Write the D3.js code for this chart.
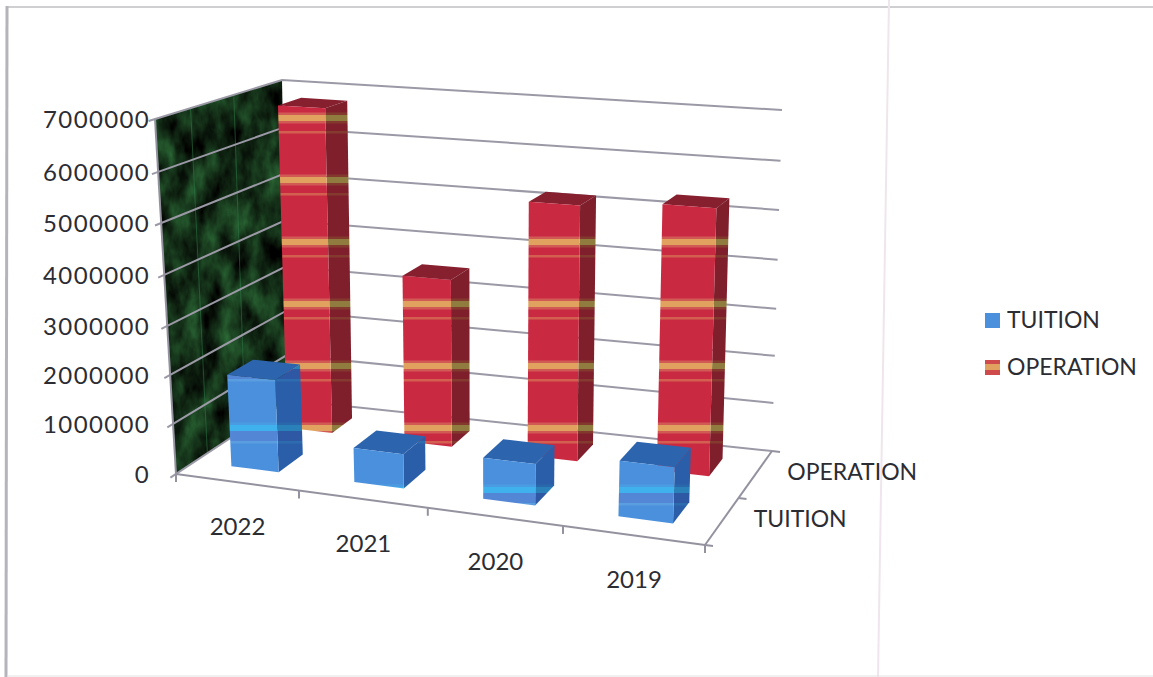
<!DOCTYPE html>
<html>
<head>
<meta charset="utf-8">
<script src="https://cdn.jsdelivr.net/npm/d3@7/dist/d3.min.js"></script>
<style>
  html, body { margin: 0; padding: 0; background: #fff; }
  svg { display: block; }
  text { font-family: Lato, "Open Sans", sans-serif; fill: #2c2c33; }
</style>
</head>
<body>
<svg id="chart" width="1153" height="677"></svg>
<script>
// Budget figures per year
const years = ["2022", "2021", "2020", "2019"];
const seriesNames = ["TUITION", "OPERATION"];
const tuition = [1860000, 670000, 790000, 1040000];
const operation = [6780000, 3490000, 5180000, 5320000];
const valueTicks = [0, 1000000, 2000000, 3000000, 4000000, 5000000, 6000000, 7000000];

const W = 1153, H = 677;
const svg = d3.select("#chart").attr("viewBox", `0 0 ${W} ${H}`);
const defs = svg.append("defs");

// Corners of the chart box on screen
const box = {
  fbl: [176, 474], ftl: [155, 119], fbr: [705, 545], ftr: [720, 150],
  bbl: [288, 400], btl: [282, 80], bbr: [772, 451], btr: [782, 110]
};
const mix = (a, b, t) => [a[0] + (b[0] - a[0]) * t, a[1] + (b[1] - a[1]) * t];

// Box coordinates: along the category axis, into the depth, and up the value axis
function project(u, w, f) {
  const bottom = mix(mix(box.fbl, box.fbr, u), mix(box.bbl, box.bbr, u), w);
  const top = mix(mix(box.ftl, box.ftr, u), mix(box.btl, box.btr, u), w);
  return mix(bottom, top, f);
}

// Foreshortened scales: spacing widens slightly toward the viewer on each axis
const catScale = d3.scaleLinear().domain([0, 1, 2, 3, 4]).range([0, 0.2325, 0.476, 0.7316, 1]);
const valScale = d3.scaleLinear().domain(valueTicks)
  .range([0, 0.141, 0.279, 0.417, 0.561, 0.707, 0.851, 1]);
const depthBands = { TUITION: [0.17, 0.40], OPERATION: [0.68, 0.87] };
const barInset = [0.30, 0.69];

const polyPath = d3.line().curve(d3.curveLinearClosed);
const openPath = d3.line();

// Tiled bands that run straight across the bars
const bandPeriod = 62;
function bandPattern(id, base, thick, edge, thin, tint) {
  const p = defs.append("pattern").attr("id", id)
    .attr("patternUnits", "userSpaceOnUse")
    .attr("width", 40).attr("height", bandPeriod);
  const band = (y, h, c) => p.append("rect").attr("x", 0).attr("y", y)
    .attr("width", 40).attr("height", h).attr("fill", c);
  band(0, bandPeriod, base);
  band(50.5, 11, edge);
  band(53, 6, thick);
  if (tint) { band(59, 3, tint); band(0, 7, tint); }
  band(7, 2.5, thin);
}
bandPattern("redFront", "#c92a42", "#e0a25e", "#d25a55", "#d35f50");
bandPattern("redSide", "#7e1f2b", "#8f7c3e", "#84392f", "#843a2e");
bandPattern("blueFront", "#4a90dd", "#3fb2ee", "#4a9ce2", "#5a9ee0", "#5486d6");
bandPattern("blueSide", "#2a5ea8", "#2a80b8", "#2a68ac", "#2d6cae", "#2f58a4");

// Mottled surface for the side wall
const marble = defs.append("filter").attr("id", "marble")
  .attr("x", 0).attr("y", 0).attr("width", 1).attr("height", 1)
  .attr("color-interpolation-filters", "sRGB");
marble.append("feTurbulence").attr("type", "fractalNoise")
  .attr("baseFrequency", "0.05 0.025").attr("numOctaves", 4).attr("seed", 7);
marble.append("feColorMatrix").attr("values",
  "0.25 0 0 0 -0.05  0.62 0 0 0 -0.13  0.32 0 0 0 -0.07  0 0 0 0 1");
marble.append("feComposite").attr("in2", "SourceGraphic").attr("operator", "in");

// Edges of the sheet
const sheet = svg.append("g").attr("fill", "none");
sheet.append("path").attr("d", openPath([[7, 7], [1153, 7]]))
  .attr("stroke", "#cfcfd2").attr("stroke-width", 2);
sheet.append("path").attr("d", openPath([[7, 6], [6, 677]]))
  .attr("stroke", "#b4b4ba").attr("stroke-width", 3);
sheet.append("path").attr("d", openPath([[889, 0], [878, 677]]))
  .attr("stroke", "#eee6ec").attr("stroke-width", 2);
sheet.append("path").attr("d", openPath([[7, 676], [1153, 676]]))
  .attr("stroke", "#e2e2e4").attr("stroke-width", 1);

// Side wall
const wallCorners = [project(0, 0, 0), project(0, 0, 1), project(0, 1, 1), project(0, 1, 0)];
svg.append("path").attr("d", polyPath(wallCorners)).attr("fill", "#000").attr("filter", "url(#marble)");
const wallSeams = [0.28, 0.62];
svg.append("g").selectAll("path").data(wallSeams).join("path")
  .attr("d", w => openPath([project(0, w, 0), project(0, w, 1)]))
  .attr("stroke", "#2f7d4a").attr("stroke-width", 1).attr("opacity", 0.55);

// Gridlines wrap the wall and the back of the box, with a tick stub in front of the axis
const gridColor = "#9b99a6";
svg.append("g").selectAll("path").data(valueTicks).join("path")
  .attr("fill", "none").attr("stroke", gridColor).attr("stroke-width", 2)
  .attr("d", v => {
    const f = valScale(v);
    return openPath([project(0, -0.05, f), project(0, 1, f), project(1, 1, f)]);
  });

// Floor edges and the axis lines
const axisColor = "#94929e";
const axes = svg.append("g").attr("fill", "none").attr("stroke", axisColor).attr("stroke-width", 2);
axes.append("path").attr("d", openPath([project(0, 0, 0), project(0, 0, 1)]));
axes.append("path").attr("d", openPath([project(0, 0, 0), project(1, 0, 0)]));
axes.append("path").attr("d", openPath([project(1, 0, 0), project(1, 1, 0)]));

// Category tick marks, then the depth tick marks
const catEdges = d3.range(years.length + 1);
axes.selectAll(".cat").data(catEdges).join("path").attr("class", "cat")
  .attr("d", i => { const p = project(catScale(i), 0, 0); return openPath([p, [p[0], p[1] + 8]]); });
const depthTicks = [0, 0.5, 1];
axes.selectAll(".dep").data(depthTicks).join("path").attr("class", "dep")
  .attr("d", w => { const p = project(1, w, 0); return openPath([p, [p[0] + 8, p[1] + 1]]); });

// One bar as three faces: side, top, front
function drawBar(g, i, value, name, faces) {
  const u0 = catScale(i + barInset[0]), u1 = catScale(i + barInset[1]);
  const [w0, w1] = depthBands[name];
  const f = valScale(value);
  const side = [project(u1, w0, 0), project(u1, w0, f), project(u1, w1, f), project(u1, w1, 0)];
  const top = [project(u0, w0, f), project(u1, w0, f), project(u1, w1, f), project(u0, w1, f)];
  const front = [project(u0, w0, 0), project(u0, w0, f), project(u1, w0, f), project(u1, w0, 0)];
  g.append("path").attr("d", polyPath(side)).attr("fill", faces.side);
  g.append("path").attr("d", polyPath(top)).attr("fill", faces.top);
  g.append("path").attr("d", polyPath(front)).attr("fill", faces.front);
}
const barsBack = svg.append("g");
operation.forEach((v, i) => drawBar(barsBack, i, v, "OPERATION",
  { side: "url(#redSide)", top: "#86202f", front: "url(#redFront)" }));
const barsFront = svg.append("g");
tuition.forEach((v, i) => drawBar(barsFront, i, v, "TUITION",
  { side: "url(#blueSide)", top: "#2c64ae", front: "url(#blueFront)" }));

// Value labels
const fontSize = 24, seriesFontSize = 23;
svg.append("g").selectAll("text").data(valueTicks).join("text")
  .attr("font-size", fontSize).attr("text-anchor", "end")
  .attr("letter-spacing", 1.35)
  .attr("x", 150)
  .attr("y", v => project(0, 0, valScale(v))[1] + 9)
  .text(v => d3.format("d")(v));

// Year labels sit below the floor edge, centred on each category
svg.append("g").selectAll("text").data(years).join("text")
  .attr("font-size", fontSize).attr("text-anchor", "middle")
  .attr("x", (d, i) => project(catScale(i + 0.5), 0, 0)[0])
  .attr("y", (d, i) => project(catScale(i + 0.5), 0, 0)[1] + 53)
  .text(d => d);

// Series labels along the depth edge
svg.append("g").selectAll("text").data(seriesNames).join("text")
  .attr("font-size", seriesFontSize)
  .attr("x", (d, i) => project(1, 0.25 + i * 0.5, 0)[0] + 32)
  .attr("y", (d, i) => project(1, 0.25 + i * 0.5, 0)[1] + 5)
  .text(d => d);

// Legend
const legend = svg.append("g").attr("transform", "translate(985,320)");
const legendRows = legend.selectAll("g").data(seriesNames).join("g")
  .attr("transform", (d, i) => `translate(0,${i * 47})`);
legendRows.append("rect").attr("x", 0).attr("y", -7).attr("width", 15).attr("height", 15)
  .attr("fill", (d, i) => i === 0 ? "#4a90dd" : "#cf4a4a");
legendRows.filter((d, i) => i === 1).append("rect")
  .attr("x", 0).attr("y", -3).attr("width", 15).attr("height", 6).attr("fill", "#e0a25e");
legendRows.append("text").attr("x", 22).attr("y", 8).attr("font-size", seriesFontSize).text(d => d);
</script>
</body>
</html>
